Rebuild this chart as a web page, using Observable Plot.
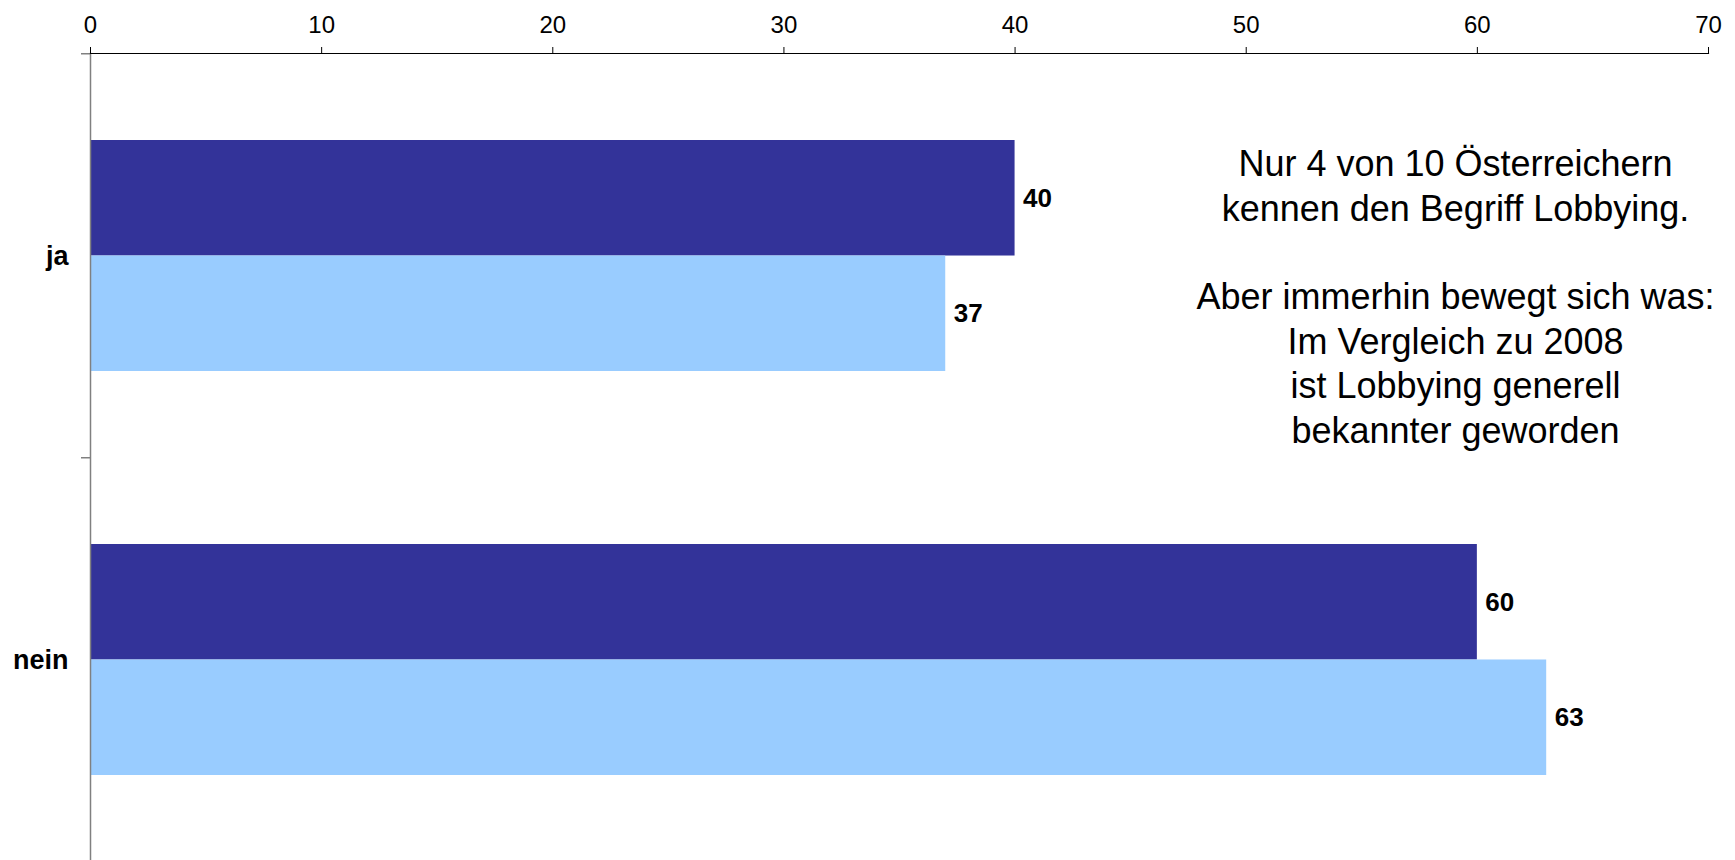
<!DOCTYPE html>
<html>
<head>
<meta charset="utf-8">
<script src="https://cdn.jsdelivr.net/npm/d3@7"></script>
<script src="https://cdn.jsdelivr.net/npm/@observablehq/plot@0.6"></script>
<style>
  html, body { margin: 0; padding: 0; background: #ffffff; overflow: hidden; }
  #chart { width: 1735px; height: 860px; }
</style>
</head>
<body>
<div id="chart"></div>
<script>
// ---- data ----
const categories = ["ja", "nein"];
const seriesNames = ["aktuell", "2008"];
const valuesAktuell = [40, 60];
const values2008 = [37, 63];
const xTicks = [0, 10, 20, 30, 40, 50, 60, 70];
const annotationTop = ["Nur 4 von 10 Österreichern", "kennen den Begriff Lobbying."];
const annotationBottom = ["Aber immerhin bewegt sich was:", "Im Vergleich zu 2008", "ist Lobbying generell", "bekannter geworden"];
const seriesColors = ["#333399", "#99CCFF"];

// ---- table built from the arrays ----
const rows = [];
categories.forEach((c, i) => {
  rows.push({category: c, series: seriesNames[0], value: valuesAktuell[i]});
  rows.push({category: c, series: seriesNames[1], value: values2008[i]});
});

// ---- layout ----
const W = 1735, H = 860;
const marginTop = 53, marginLeft = 90, marginRight = 27;
const yRange = [53, 862];
const padInner = 0.429;
const step = (yRange[1] - yRange[0]) / categories.length;
const bw = step * (1 - padInner);
const half = bw / 2;
const font = "'Liberation Sans', Arial, Helvetica, sans-serif";
const gray = "#808080";

const plot = Plot.plot({
  width: W,
  height: H,
  marginTop,
  marginLeft,
  marginRight,
  marginBottom: 0,
  style: {background: "#ffffff", color: "#000000", fontFamily: font},
  x: {domain: [0, 70], axis: null, label: null},
  y: {type: "band", domain: categories, range: yRange, paddingInner: padInner, paddingOuter: padInner / 2, axis: null, label: null},
  color: {domain: seriesNames, range: seriesColors},
  marks: [
    // bars
    Plot.barX(rows.filter(d => d.series === seriesNames[0]), {x: "value", y: "category", fill: "series", insetBottom: half}),
    Plot.barX(rows.filter(d => d.series === seriesNames[1]), {x: "value", y: "category", fill: "series", insetTop: half}),
    // value labels
    Plot.text(rows.filter(d => d.series === seriesNames[0]), {x: "value", y: "category", text: d => String(d.value), dx: 8, dy: -half / 2, textAnchor: "start", fontWeight: "bold", fontSize: 26, fill: "#000000"}),
    Plot.text(rows.filter(d => d.series === seriesNames[1]), {x: "value", y: "category", text: d => String(d.value), dx: 8, dy: half / 2, textAnchor: "start", fontWeight: "bold", fontSize: 26, fill: "#000000"}),
    // y axis line and category boundary ticks
    Plot.frame({anchor: "left", stroke: gray, strokeWidth: 1.5}),
    Plot.ruleY(categories, {y: d => d, x1: 0, x2: 0, insetLeft: -9, dy: -step / 2, stroke: gray, strokeWidth: 1.5}),
    // category labels
    Plot.axisY({anchor: "left", tickSize: 0, tickPadding: 22, fontSize: 27, fontWeight: "bold", label: null}),
    // top x axis
    Plot.frame({anchor: "top", stroke: "#000000", strokeWidth: 1.2}),
    Plot.axisX({anchor: "top", ticks: xTicks, tickSize: 7, tickPadding: 14, fontSize: 24, tickFormat: d => String(d), label: null}),
    // annotation
    Plot.text([annotationTop.join("\n")], {frameAnchor: "top-left", dx: 1365, dy: 91, textAnchor: "middle", lineAnchor: "top", lineHeight: 1.24, fontSize: 36, fill: "#000000"}),
    Plot.text([annotationBottom.join("\n")], {frameAnchor: "top-left", dx: 1365, dy: 224, textAnchor: "middle", lineAnchor: "top", lineHeight: 1.24, fontSize: 36, fill: "#000000"})
  ]
});
document.getElementById("chart").appendChild(plot);
</script>
</body>
</html>
